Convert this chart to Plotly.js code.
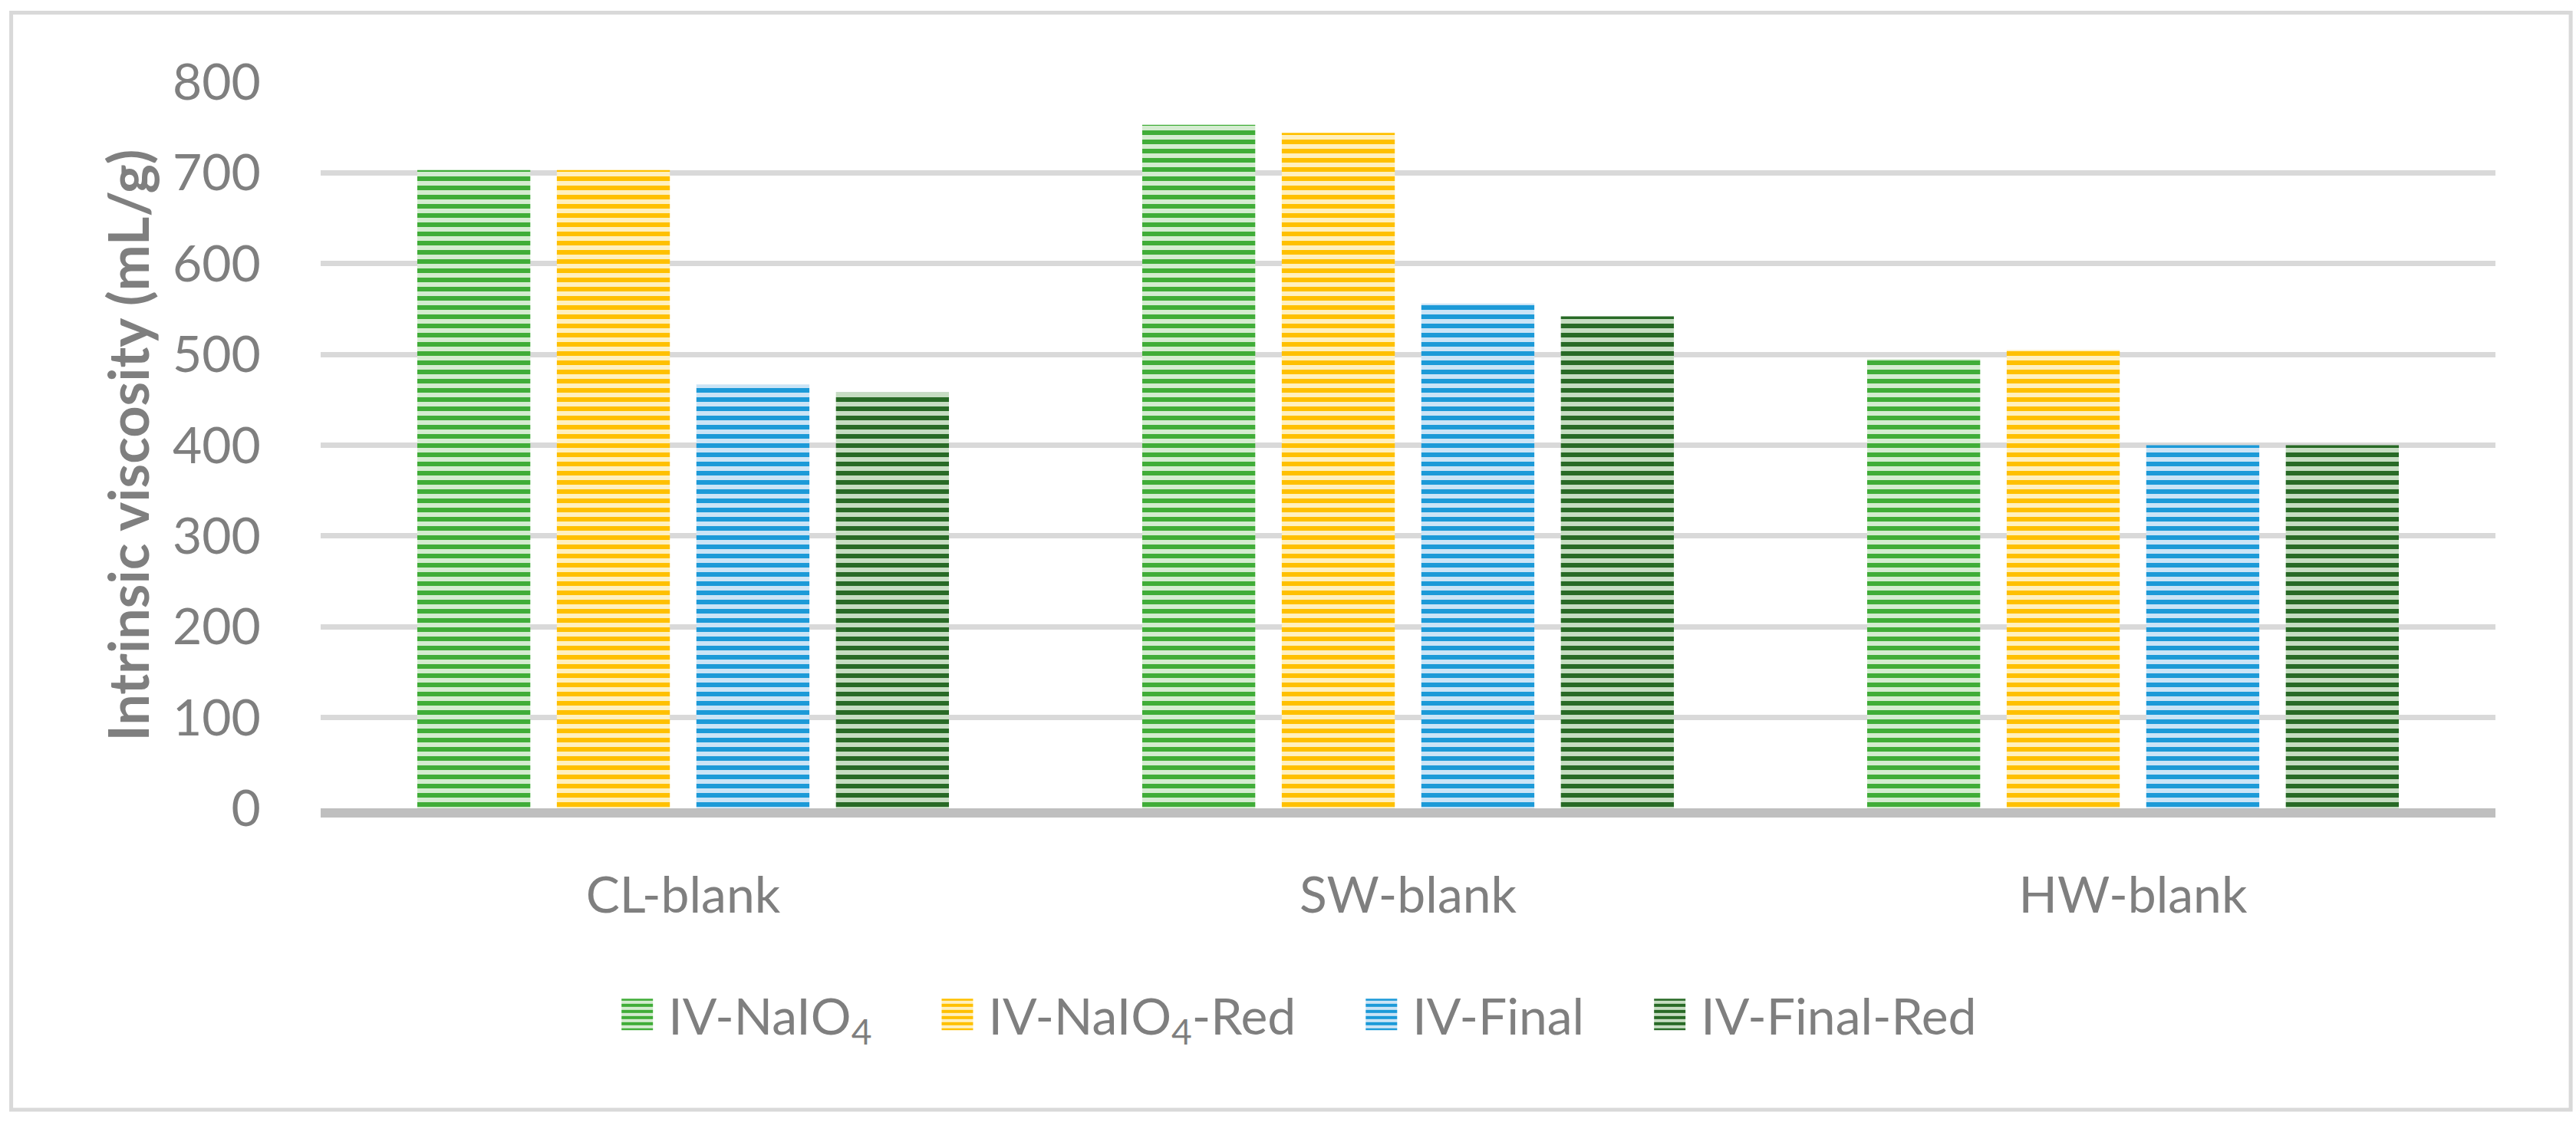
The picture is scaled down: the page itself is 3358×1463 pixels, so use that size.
<!DOCTYPE html>
<html>
<head>
<meta charset="utf-8">
<script src="https://cdn.plot.ly/plotly-3.0.1.min.js"></script>
<style>
  html, body { margin: 0; padding: 0; background: #ffffff; }
  #chart { width: 3358px; height: 1463px; }
</style>
</head>
<body>
<div id="chart"></div>
<script>
// ---- data ----
var categories = ['CL-blank', 'SW-blank', 'HW-blank'];
var seriesNames = ['IV-NaIO<sub>4</sub>', 'IV-NaIO<sub>4</sub>-Red', 'IV-Final', 'IV-Final-Red'];
var ivNaIO4 = [703, 753, 495];
var ivNaIO4Red = [703, 744, 505];
var ivFinal = [467, 556, 400];
var ivFinalRed = [458, 542, 400];
var yTickVals = [0, 100, 200, 300, 400, 500, 600, 700, 800];
var yTitle = 'Intrinsic viscosity (mL/g)';

// ---- styles ----
var stripeColors = ['#40ad38', '#ffc000', '#1c9ad8', '#286a26'];
var bandColors = ['#d4ecd0', '#fff0bf', '#cbe4f6', '#c6ddc2'];
var values = [ivNaIO4, ivNaIO4Red, ivFinal, ivFinalRed];
var gray = '#7f7f7f';
var fontFam = 'Lato, "Open Sans", sans-serif';

var traces = values.map(function (v, i) {
  return {
    type: 'bar',
    name: seriesNames[i],
    x: categories,
    y: v,
    marker: {
      color: bandColors[i],
      line: { width: 0 },
      pattern: {
        shape: '-',
        fgcolor: stripeColors[i],
        bgcolor: bandColors[i],
        size: 12,
        solidity: 0.5,
        fillmode: 'replace'
      }
    },
    hoverinfo: 'skip'
  };
});

var layout = {
  width: 3358,
  height: 1463,
  autosize: false,
  paper_bgcolor: '#ffffff',
  plot_bgcolor: '#ffffff',
  margin: { l: 418, r: 105, t: 107, b: 409, autoexpand: false },
  font: { family: fontFam, size: 66, color: gray },
  barmode: 'group',
  bargap: 0.23,
  bargroupgap: 0.19,
  showlegend: true,
  legend: {
    orientation: 'h',
    x: 0.108,
    xanchor: 'left',
    y: -0.284,
    yanchor: 'middle',
    itemwidth: 137,
    font: { family: fontFam, size: 66, color: gray },
    bgcolor: 'rgba(0,0,0,0)',
    borderwidth: 0,
    traceorder: 'normal'
  },
  xaxis: {
    type: 'category',
    showgrid: false,
    zeroline: false,
    showline: true,
    linecolor: '#bfbfbf',
    linewidth: 12,
    ticks: 'outside',
    ticklen: 45,
    tickcolor: 'rgba(0,0,0,0)',
    tickfont: { family: fontFam, size: 66, color: gray },
    fixedrange: true
  },
  yaxis: {
    range: [0, 800],
    tickvals: yTickVals,
    showgrid: true,
    gridcolor: '#d9d9d9',
    gridwidth: 7,
    zeroline: false,
    showline: false,
    ticks: 'outside',
    ticklen: 64,
    tickcolor: 'rgba(0,0,0,0)',
    tickfont: { family: fontFam, size: 66, color: gray },
    title: {
      text: yTitle,
      font: { family: fontFam, size: 72, color: gray, weight: 'bold' },
      standoff: 6
    },
    fixedrange: true
  },
  shapes: [{
    type: 'rect',
    xref: 'paper', yref: 'paper',
    x0: -0.1423, x1: 1.0346,
    y0: -0.415, y1: 1.0956,
    line: { color: '#d9d9d9', width: 5 },
    fillcolor: 'rgba(0,0,0,0)',
    layer: 'below'
  }]
};

Plotly.newPlot('chart', traces, layout, { staticPlot: true, displayModeBar: false }).then(function (gd) {
  var items = gd.querySelectorAll('.legend .traces');
  items.forEach(function (it) {
    var txt = it.querySelector('text.legendtext');
    var tx = txt ? parseFloat(txt.getAttribute('x')) : 40;
    var p = it.querySelector('.legendpoints path');
    if (p) {
      p.setAttribute('d', 'M20.5,20.5H-20.5V-20.5H20.5Z');
      p.setAttribute('transform', 'translate(' + (tx - 40.5) + ',0)');
    }
  });
});
</script>
</body>
</html>
